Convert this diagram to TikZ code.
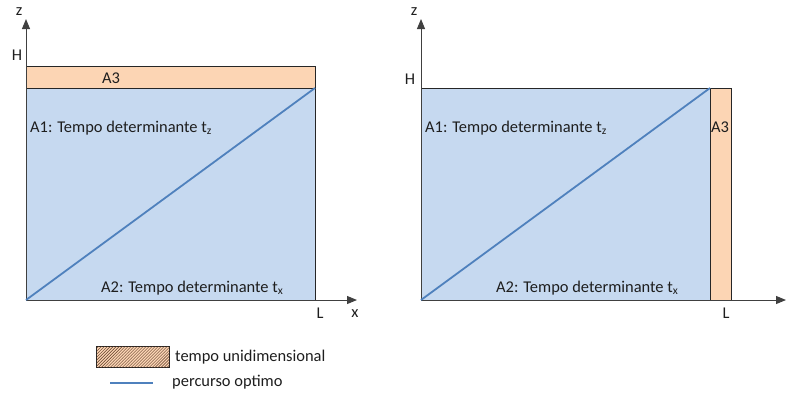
\documentclass[tikz,border=0pt]{standalone}
\usepackage{fontspec}
\setmainfont{Carlito}
\usetikzlibrary{positioning,arrows.meta,patterns}
\definecolor{areablue}{RGB}{198,217,240}
\definecolor{areaorange}{RGB}{252,213,180}
\definecolor{pathblue}{RGB}{79,129,189}
\definecolor{textgray}{RGB}{30,30,30}
\definecolor{hatchbrown}{RGB}{90,55,35}

\begin{document}
\begin{tikzpicture}[
  x=1bp,y=-1bp,
  axis/.style={-{Triangle[length=10bp,width=8bp]},line width=1bp,draw=black!75},
  areabox/.style={draw=black!85,line width=1bp,inner sep=0,outer sep=0,anchor=north west},
  optline/.style={draw=pathblue,line width=1.8bp},
  lbl/.style={font=\fontsize{16.5}{19}\selectfont,text=textgray,inner sep=0},
]
\useasboundingbox (0,0) rectangle (787,394);

% --- LEFT: A3 on top ---
\node[areabox,fill=areablue,minimum width=289bp,minimum height=212bp] (a1L) at (26,88) {};
\node[areabox,fill=areaorange,minimum width=289bp,minimum height=22bp] (a3L) at (26,66) {};
\coordinate (oL) at (26,300);
\coordinate (zL) at (26,19);
\coordinate (xL) at (357,300);
\draw[axis] (oL) -- (zL);
\draw[axis] (oL) -- (xL);
\draw[optline] (oL) -- (a1L.north east);
\node[lbl] (zlabL) at (19,12) {z};
\node[lbl] (HlabL) at (17,55) {H};
\node[lbl] (LlabL) at (320,313) {L};
\node[lbl] (xlabL) at (355,314) {x};
\node[lbl] (a3labL) at (111,78) {A3};
\node[lbl,anchor=west] (a1labL) at (30,128) {A1: Tempo determinante t\textsubscript{z}};
\node[lbl,anchor=west] (a2labL) at (101,288) {A2: Tempo determinante t\textsubscript{x}};

% --- RIGHT: A3 on the side ---
\node[areabox,fill=areablue,minimum width=289bp,minimum height=212bp] (a1R) at (421,88) {};
\node[areabox,fill=areaorange,minimum width=21bp,minimum height=212bp] (a3R) at (710,88) {};
\coordinate (oR) at (421,300);
\coordinate (zR) at (421,19);
\coordinate (xR) at (786,300);
\draw[axis] (oR) -- (zR);
\draw[axis] (oR) -- (xR);
\draw[optline] (oR) -- (a1R.north east);
\node[lbl] (zlabR) at (414,12) {z};
\node[lbl] (HlabR) at (410,79) {H};
\node[lbl] (LlabR) at (726,313) {L};
\node[lbl] (a3labR) at (720,127) {A3};
\node[lbl,anchor=west] (a1labR) at (425,128) {A1: Tempo determinante t\textsubscript{z}};
\node[lbl,anchor=west] (a2labR) at (496,288) {A2: Tempo determinante t\textsubscript{x}};

% --- LEGEND ---
\node[draw=black!85,line width=1bp,fill=areaorange,postaction={pattern=north east lines,pattern color=hatchbrown},
  minimum width=73bp,minimum height=21bp,inner sep=0] (legbox) at (133,357) {};
\node[lbl,right=5bp of legbox] (legboxtxt) {tempo unidimensional};
\coordinate (legA) at (110,383);
\coordinate (legB) at (153,383);
\draw[optline] (legA) -- (legB);
\node[lbl,anchor=west] (legtxt) at (172,382) {percurso optimo};

\end{tikzpicture}
\end{document}
